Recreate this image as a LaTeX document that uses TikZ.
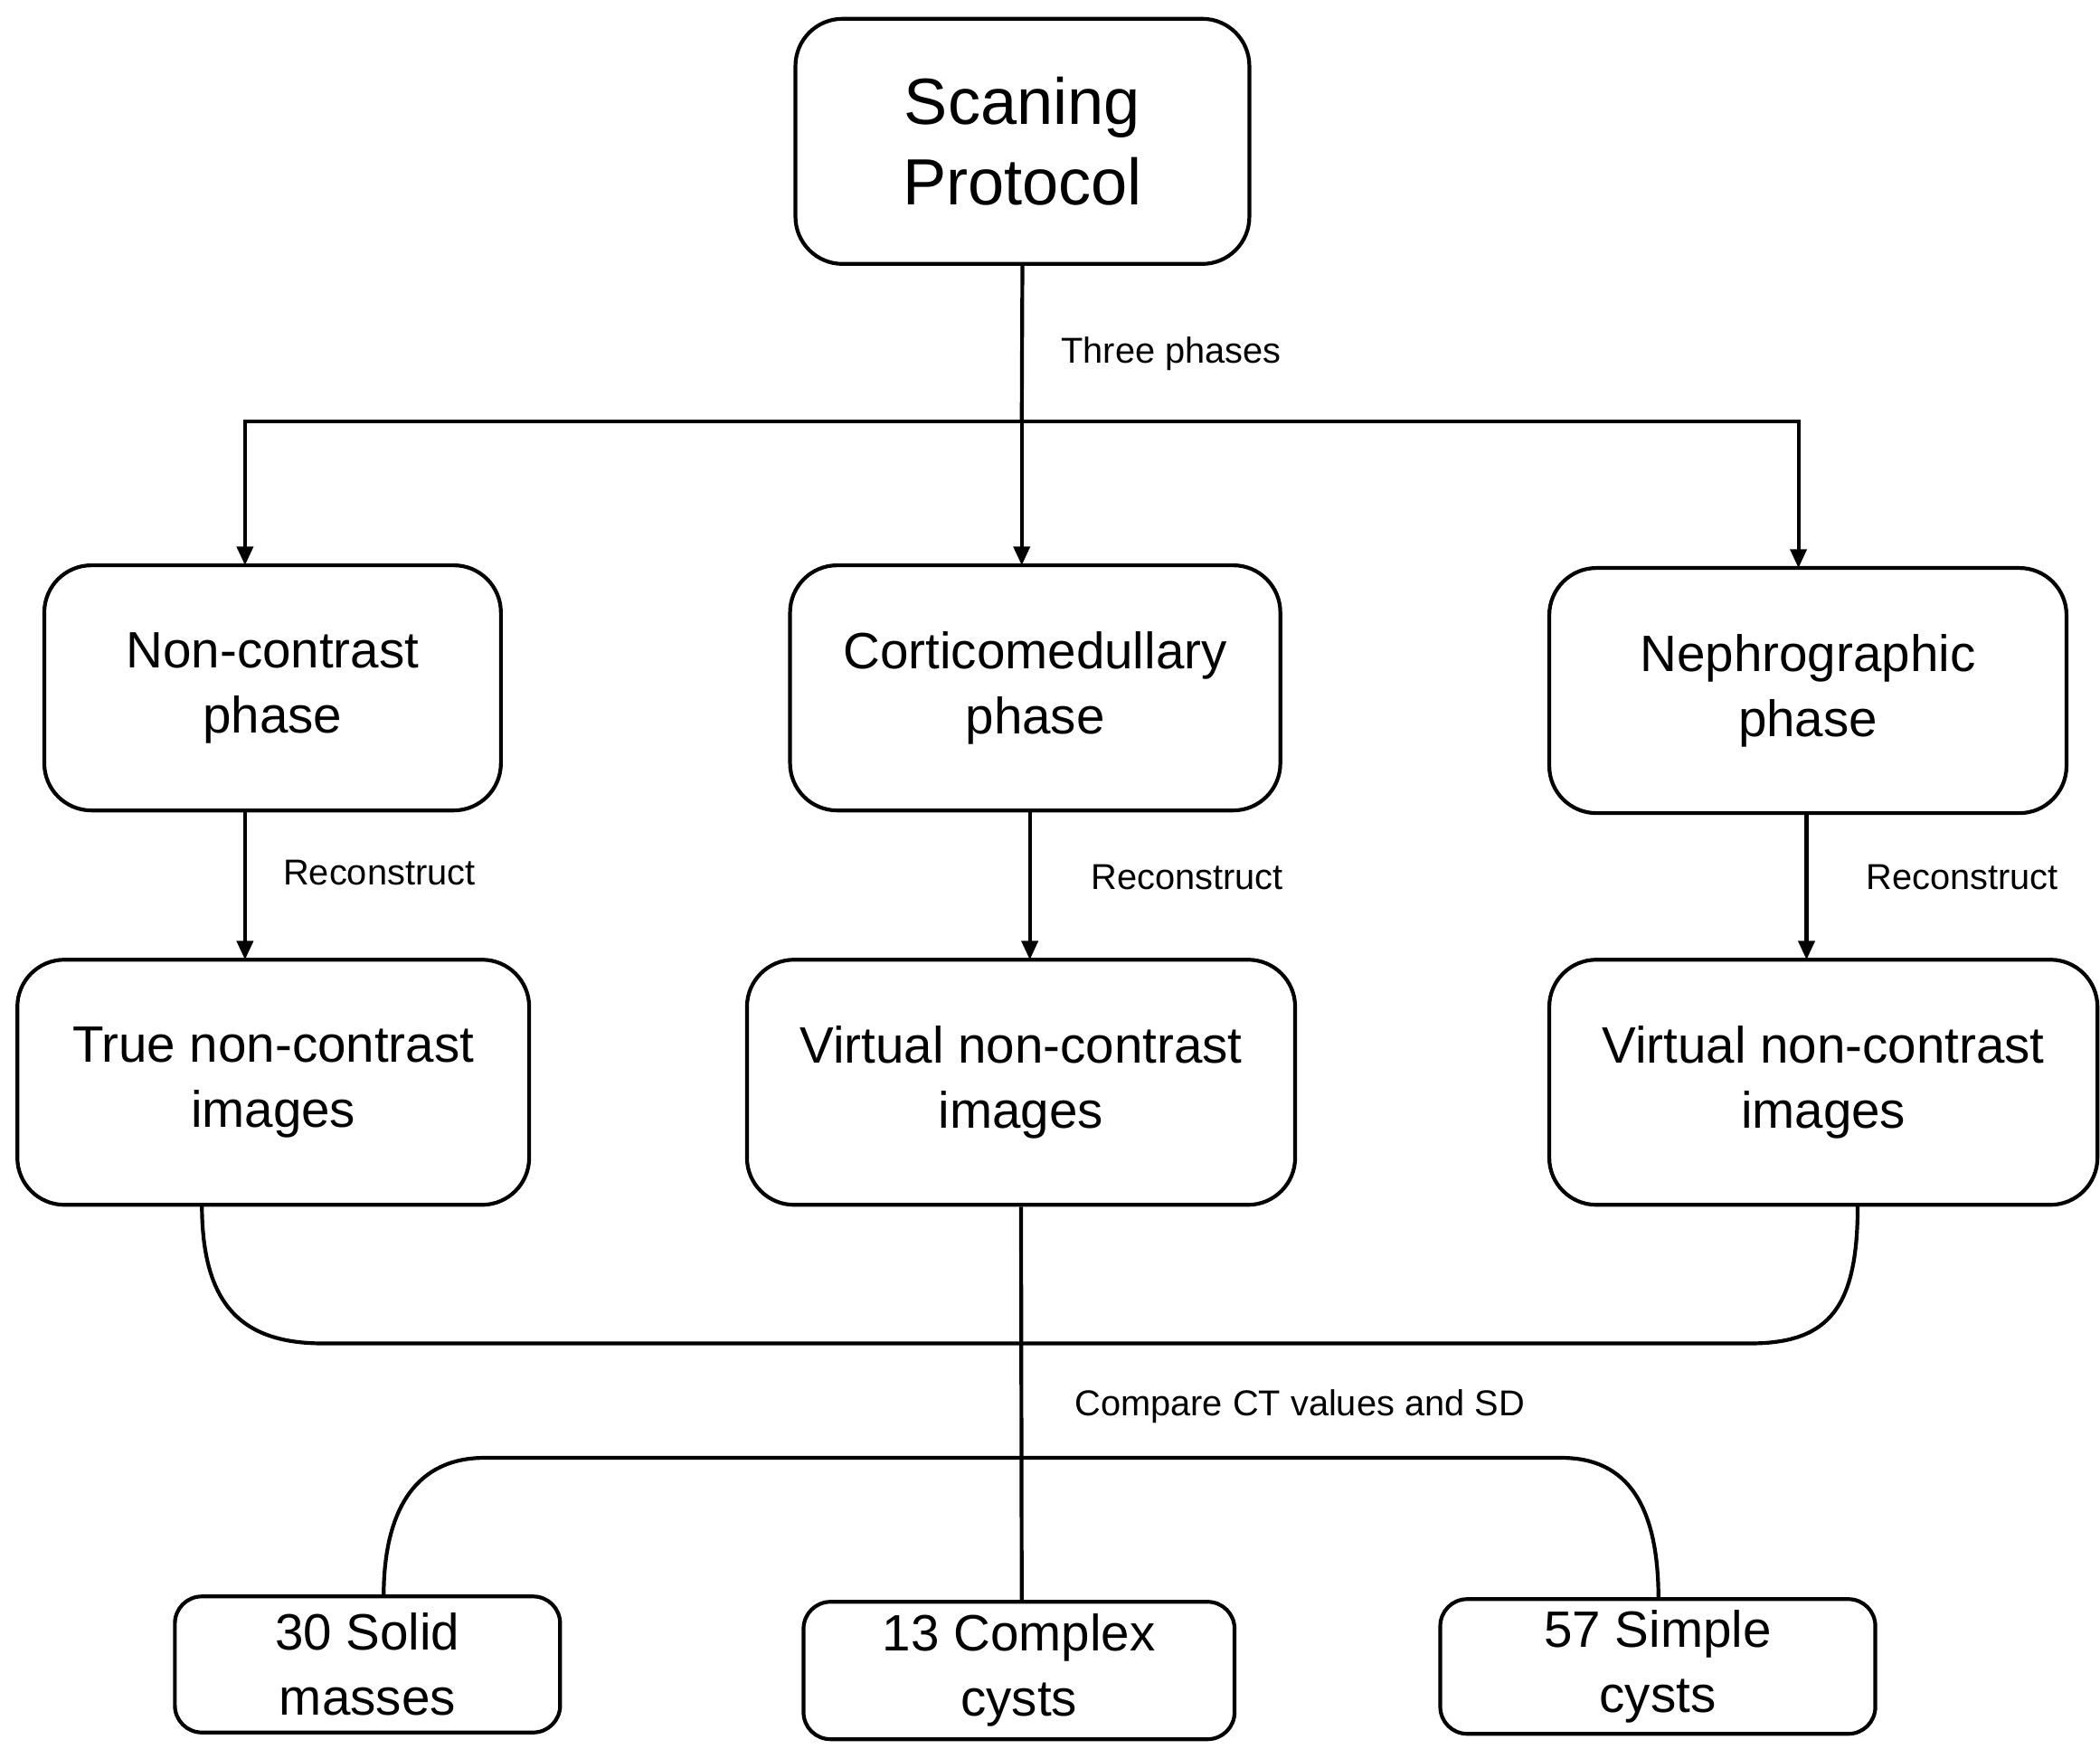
\documentclass[tikz,border=0pt]{standalone}
\usepackage{fontspec}
\setmainfont{Liberation Sans}
\usetikzlibrary{arrows.meta}
\begin{document}
\begin{tikzpicture}[x=0.01cm,y=-0.01cm,
 box/.style={draw,thick,rounded corners=0.35cm,align=center,inner sep=0pt,font=\fontsize{10.8}{13.7}\selectfont},
 small/.style={draw,thick,rounded corners=0.2cm,align=center,inner sep=0pt,font=\fontsize{10.8}{13.7}\selectfont},
 lab/.style={anchor=west,font=\fontsize{7.6}{9}\selectfont},
 arr/.style={thick,-{Triangle[length=0.14cm,width=0.12cm]}},
 ln/.style={thick}]
\useasboundingbox (0,0) rectangle (1560,1299);
\node[box,minimum width=3.37cm,minimum height=1.82cm,font=\fontsize{13.8}{17}\selectfont] (sp) at (759.5,105) {Scaning\\Protocol};
\node[box,minimum width=3.39cm,minimum height=1.82cm] (nc) at (202.5,511) {Non-contrast\\phase};
\node[box,minimum width=3.64cm,minimum height=1.82cm] (cm) at (769,511) {Corticomedullary\\phase};
\node[box,minimum width=3.84cm,minimum height=1.82cm] (np) at (1343,513) {Nephrographic\\phase};
\node[box,minimum width=3.80cm,minimum height=1.82cm] (tn) at (203,804) {True non-contrast\\images};
\node[box,minimum width=4.07cm,minimum height=1.82cm] (v1) at (758.5,804) {Virtual non-contrast\\images};
\node[box,minimum width=4.07cm,minimum height=1.82cm] (v2) at (1354.5,804) {Virtual non-contrast\\images};
\node[small,minimum width=2.86cm,minimum height=1.01cm] (s1) at (273,1236.5) {30 Solid\\masses};
\node[small,minimum width=3.20cm,minimum height=1.02cm] (s2) at (757,1241) {13 Complex\\cysts};
\node[small,minimum width=3.23cm,minimum height=1.00cm] (s3) at (1231.5,1238) {57 Simple\\cysts};
\coordinate (j) at (759,313);
\draw[ln] (sp.south) -- (j);
\draw[arr] (j) -- (759,420);
\draw[arr] (j) -| (182,420);
\draw[arr] (j) -| (1336,422);
\node[lab] (l1) at (776,263) {Three phases};
\draw[arr] (182,602) -- (182,713);
\draw[arr] (765,602) -- (765,713);
\draw[arr] (1342,604) -- (1342,713);
\node[lab] (l2) at (198,648) {Reconstruct};
\node[lab] (l3) at (798,652) {Reconstruct};
\node[lab] (l4) at (1374,652) {Reconstruct};
\draw[ln] (150,895) .. controls (150,970) and (180,998) .. (240,998) -- (1300,998) .. controls (1360,998) and (1380,970) .. (1380,895);
\draw[ln] (v1.south) -- (759,1190);
\node[lab] (l5) at (786,1045) {Compare CT values and SD};
\draw[ln] (285,1186) .. controls (285,1120) and (310,1083) .. (360,1083) -- (1160,1083) .. controls (1210,1083) and (1232,1120) .. (1232,1188);
\end{tikzpicture}
\end{document}
